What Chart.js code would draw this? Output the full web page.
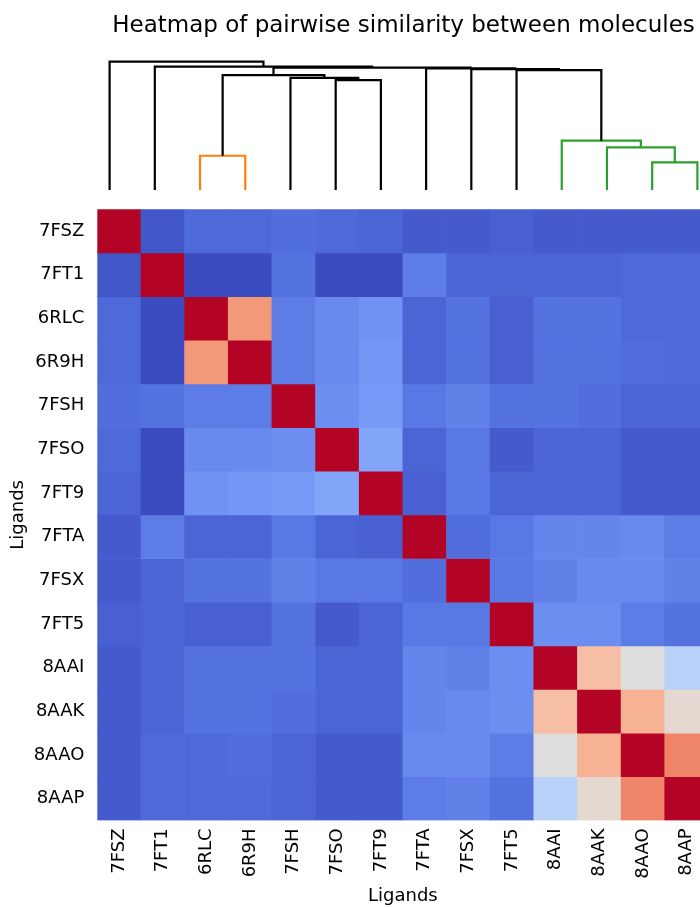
<!DOCTYPE html>
<html>
<head>
<meta charset="utf-8">
<script src="https://cdn.jsdelivr.net/npm/chart.js@4"></script>
<style>
  html, body { margin: 0; padding: 0; background: #fff; overflow: hidden; }
  body { width: 700px; height: 907px; position: relative; }
  canvas { position: absolute; }
  #dendro { left: 87px; top: 0; }
  #heat { left: 0; top: 200px; }
</style>
</head>
<body>
<canvas id="dendro" width="633" height="190"></canvas>
<canvas id="heat" width="720" height="707"></canvas>
<script>
const ligands = ["7FSZ", "7FT1", "6RLC", "6R9H", "7FSH", "7FSO", "7FT9", "7FTA", "7FSX", "7FT5", "8AAI", "8AAK", "8AAO", "8AAP"];

// pairwise similarity, rows/cols in ligand order
const similarity = [
  [1.00, 0.12, 0.16, 0.16, 0.17, 0.16, 0.15, 0.13, 0.13, 0.14, 0.13, 0.13, 0.13, 0.13],
  [0.12, 1.00, 0.10, 0.10, 0.18, 0.10, 0.10, 0.20, 0.15, 0.15, 0.15, 0.15, 0.16, 0.16],
  [0.16, 0.10, 1.00, 0.78, 0.20, 0.23, 0.25, 0.15, 0.18, 0.14, 0.18, 0.18, 0.16, 0.16],
  [0.16, 0.10, 0.78, 1.00, 0.20, 0.23, 0.26, 0.15, 0.18, 0.14, 0.18, 0.18, 0.17, 0.16],
  [0.17, 0.18, 0.20, 0.20, 1.00, 0.24, 0.27, 0.19, 0.21, 0.18, 0.18, 0.17, 0.15, 0.15],
  [0.16, 0.10, 0.23, 0.23, 0.24, 1.00, 0.30, 0.15, 0.19, 0.13, 0.15, 0.15, 0.13, 0.13],
  [0.15, 0.10, 0.25, 0.26, 0.27, 0.30, 1.00, 0.14, 0.19, 0.15, 0.15, 0.15, 0.13, 0.13],
  [0.13, 0.20, 0.15, 0.15, 0.19, 0.15, 0.14, 1.00, 0.17, 0.19, 0.22, 0.22, 0.23, 0.20],
  [0.13, 0.15, 0.18, 0.18, 0.21, 0.19, 0.19, 0.17, 1.00, 0.19, 0.21, 0.23, 0.23, 0.21],
  [0.14, 0.15, 0.14, 0.14, 0.18, 0.13, 0.15, 0.19, 0.19, 1.00, 0.24, 0.24, 0.20, 0.18],
  [0.13, 0.15, 0.18, 0.18, 0.18, 0.15, 0.15, 0.22, 0.21, 0.24, 1.00, 0.68, 0.55, 0.44],
  [0.13, 0.15, 0.18, 0.18, 0.17, 0.15, 0.15, 0.22, 0.23, 0.24, 0.68, 1.00, 0.72, 0.58],
  [0.13, 0.16, 0.16, 0.17, 0.15, 0.13, 0.13, 0.23, 0.23, 0.20, 0.55, 0.72, 1.00, 0.82],
  [0.13, 0.16, 0.16, 0.16, 0.15, 0.13, 0.13, 0.20, 0.21, 0.18, 0.44, 0.58, 0.82, 1.00]
];

// linkage: [left node, right node, distance]; leaves are 0..13, merge k becomes node 14 + k
const merges = [
  [12, 13, 0.216],
  [2, 3, 0.267],
  [11, 14, 0.332],
  [10, 16, 0.384],
  [5, 6, 0.856],
  [4, 18, 0.874],
  [15, 19, 0.895],
  [9, 17, 0.934],
  [8, 21, 0.942],
  [7, 22, 0.947],
  [20, 23, 0.953],
  [1, 24, 0.961],
  [0, 25, 1.000]
];

const clusterColors = ["#ff7f0e", "#2ca02c"];
const aboveColor = "#000000";

// matplotlib coolwarm
const coolwarm = [
  [59, 76, 192], [68, 90, 204], [77, 104, 215], [87, 117, 225], [98, 130, 234], [108, 142, 241],
  [119, 154, 247], [130, 165, 251], [141, 176, 254], [152, 185, 255], [163, 194, 255], [174, 201, 253],
  [184, 208, 249], [194, 213, 244], [204, 217, 238], [213, 219, 230], [221, 221, 221], [229, 216, 209],
  [236, 211, 197], [241, 204, 185], [245, 196, 173], [247, 187, 160], [247, 177, 148], [247, 166, 135],
  [244, 154, 123], [241, 141, 111], [236, 127, 99], [229, 112, 88], [222, 96, 77], [213, 80, 66],
  [203, 62, 56], [192, 40, 47], [180, 4, 38]
];

function cmap(t) {
  t = Math.max(0, Math.min(1, t));
  const p = t * (coolwarm.length - 1);
  const i = Math.min(Math.floor(p), coolwarm.length - 2);
  const f = p - i;
  const a = coolwarm[i], b = coolwarm[i + 1];
  const c = a.map((v, k) => Math.round(v + (b[k] - v) * f));
  return `rgb(${c[0]},${c[1]},${c[2]})`;
}

const font = "'DejaVu Sans', sans-serif";
Chart.defaults.font.family = font;
Chart.defaults.color = "#000";

// ---- dendrogram ----
const nLeaves = ligands.length;
const rootId = nLeaves + merges.length - 1;
const child = id => merges[id - nLeaves];
const heightOf = id => id < nLeaves ? 0 : child(id)[2];

function leafOrder(id) {
  if (id < nLeaves) return [id];
  return [...leafOrder(child(id)[0]), ...leafOrder(child(id)[1])];
}
const xPos = {};
leafOrder(rootId).forEach((leaf, i) => { xPos[leaf] = 5 + 10 * i; });
function place(id) {
  if (id < nLeaves) return xPos[id];
  xPos[id] = (place(child(id)[0]) + place(child(id)[1])) / 2;
  return xPos[id];
}
place(rootId);

const threshold = 0.7 * heightOf(rootId);
const links = [];
let colorIdx = 0;
function paint(id, inherited) {
  if (id < nLeaves) return;
  const [a, b, h] = child(id);
  let color = aboveColor, pass = null;
  if (h < threshold) {
    color = inherited || clusterColors[colorIdx++ % clusterColors.length];
    pass = color;
  }
  links.push({
    data: [
      { x: xPos[a], y: heightOf(a) },
      { x: xPos[a], y: h },
      { x: xPos[b], y: h },
      { x: xPos[b], y: heightOf(b) }
    ],
    borderColor: color
  });
  paint(a, pass);
  paint(b, pass);
}
paint(rootId, null);

new Chart(document.getElementById("dendro"), {
  type: "scatter",
  data: {
    datasets: links.map(l => ({
      data: l.data,
      showLine: true,
      borderColor: l.borderColor,
      borderWidth: 2.2,
      pointRadius: 0,
      tension: 0,
      clip: false
    }))
  },
  options: {
    responsive: false,
    animation: false,
    layout: { padding: 0 },
    plugins: {
      legend: { display: false },
      tooltip: { enabled: false },
      title: {
        display: true,
        text: "Heatmap of pairwise similarity between molecules",
        font: { size: 23, weight: "normal" },
        color: "#000",
        padding: { top: 12, bottom: 0 }
      }
    },
    scales: {
      x: { type: "linear", display: false, min: 0, max: nLeaves * 10 },
      y: { type: "linear", display: false, min: 0, max: 1.172 }
    }
  }
});

// ---- heatmap ----
const flat = similarity.flat();
const vmin = Math.min(...flat), vmax = Math.max(...flat);

const noOverflow = s => { s.paddingTop = 0; s.paddingBottom = 0; s.paddingLeft = 0; s.paddingRight = 0; };

new Chart(document.getElementById("heat"), {
  type: "bar",
  data: {
    labels: ligands,
    datasets: similarity.map((row, r) => ({
      label: ligands[r],
      data: row.map(() => [r, r + 1]),
      backgroundColor: row.map(v => cmap((v - vmin) / (vmax - vmin))),
      borderWidth: 0,
      barPercentage: 1,
      categoryPercentage: 1,
      grouped: false
    }))
  },
  options: {
    responsive: false,
    animation: false,
    layout: { padding: { top: 9.3, right: 11.6, left: 0, bottom: 0 } },
    plugins: {
      legend: { display: false },
      tooltip: { enabled: false }
    },
    scales: {
      x: {
        grid: { display: false, drawTicks: false },
        border: { display: false },
        ticks: { autoSkip: false, minRotation: 90, maxRotation: 90, padding: 8, font: { size: 18 }, color: "#000" },
        title: { display: true, text: "Ligands", font: { size: 18 }, color: "#000", padding: { top: 0, bottom: 0 } },
        afterFit: s => { s.height = 86.6; noOverflow(s); }
      },
      y: {
        type: "linear",
        min: 0,
        max: ligands.length,
        reverse: true,
        grid: { display: false, drawTicks: false },
        border: { display: false },
        afterBuildTicks: axis => { axis.ticks = ligands.map((_, i) => ({ value: i + 0.5 })); },
        ticks: { autoSkip: false, padding: 13, font: { size: 18 }, color: "#000", callback: (v, i) => ligands[i] },
        title: { display: true, text: "Ligands", font: { size: 18 }, color: "#000", padding: { top: 8, bottom: 0 } },
        afterFit: s => { s.width = 97.3; noOverflow(s); }
      }
    }
  }
});
</script>
</body>
</html>
